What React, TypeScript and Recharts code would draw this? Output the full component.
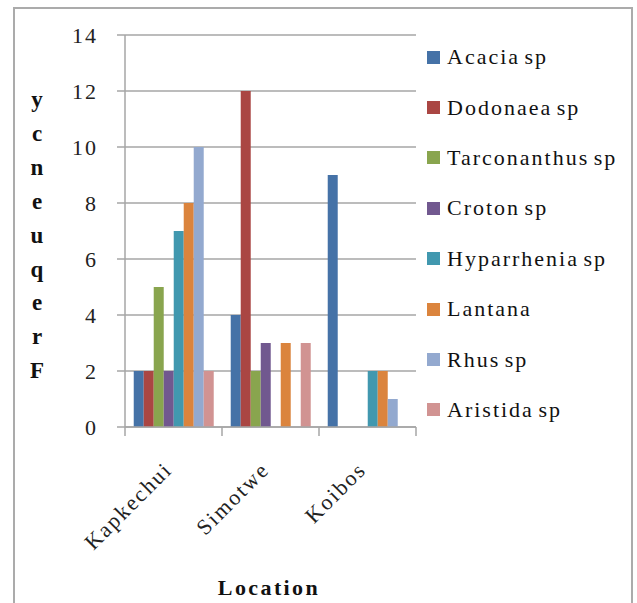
import React from 'react';
import { BarChart, Bar, XAxis, YAxis, CartesianGrid, Legend } from 'recharts';

const locations = ['Kapkechui', 'Simotwe', 'Koibos'];
const species = ['Acacia sp', 'Dodonaea sp', 'Tarconanthus sp', 'Croton sp', 'Hyparrhenia sp', 'Lantana', 'Rhus sp', 'Aristida sp'];
const acacia = [2, 4, 9];
const dodonaea = [2, 12, 0];
const tarconanthus = [5, 2, 0];
const croton = [2, 3, 0];
const hyparrhenia = [7, 0, 2];
const lantana = [8, 3, 2];
const rhus = [10, 0, 1];
const aristida = [2, 3, 0];
const yTicks = [0, 2, 4, 6, 8, 10, 12, 14];
const yTitle = 'Frequency';
const xTitle = 'Location';

const seriesValues = [acacia, dodonaea, tarconanthus, croton, hyparrhenia, lantana, rhus, aristida];
const colors = ['#4572A7', '#AA4643', '#89A54E', '#71588F', '#4198AF', '#DB843D', '#93A9CF', '#D19392'];

const data = locations.map((loc, i) => {
  const row: Record<string, any> = { location: loc };
  species.forEach((s, j) => {
    row[s] = seriesValues[j][i];
  });
  return row;
});

const W = 637;
const H = 603;
const margin = { top: 35, right: 221, bottom: 76, left: 65 };
const plotW = W - margin.left - margin.right - 60;
const font = '"Liberation Serif", "Times New Roman", serif';
const gridColor = '#a6a6a6';

const XTick = (props: any) => {
  const { x, y, payload, index } = props;
  const half = plotW / locations.length / 2;
  const tx = x;
  const ty = y + 44;
  return (
    <g>
      <line x1={x - half} y1={y} x2={x - half} y2={y + 9} stroke={gridColor} strokeWidth={1.5} />
      {index === locations.length - 1 && (
        <line x1={x + half} y1={y} x2={x + half} y2={y + 9} stroke={gridColor} strokeWidth={1.5} />
      )}
      <text
        x={tx}
        y={ty}
        textAnchor="end"
        transform={`rotate(-45 ${tx} ${ty})`}
        fontFamily={font}
        fontSize={22}
        letterSpacing={2}
        fill="#222"
      >
        {payload.value}
      </text>
    </g>
  );
};

const YTitle = () => (
  <g>
    {yTitle
      .split('')
      .reverse()
      .map((ch, i) => (
        <text
          key={i}
          x={37}
          y={107 + i * 33.9}
          textAnchor="middle"
          fontFamily={font}
          fontWeight="bold"
          fontSize={23}
          fill="#111"
        >
          {ch}
        </text>
      ))}
  </g>
);

const renderLegend = (props: any) => {
  const payload = [...(props.payload || [])].sort(
    (a: any, b: any) => species.indexOf(a.value) - species.indexOf(b.value)
  );
  return (
    <div style={{ fontFamily: font, fontSize: 22, letterSpacing: 2, wordSpacing: -3, color: '#111' }}>
      {payload.map((entry: any, i: number) => (
        <div key={i} style={{ display: 'flex', alignItems: 'center', height: 50.4, whiteSpace: 'nowrap' }}>
          <span style={{ display: 'inline-block', width: 13, height: 13, background: entry.color, marginRight: 7 }} />
          <span>{entry.value}</span>
        </div>
      ))}
    </div>
  );
};

export default function App() {
  return (
    <div style={{ position: 'absolute', left: 0, top: 0, width: W, height: H, background: '#fff', overflow: 'hidden' }}>
      <div
        style={{
          position: 'absolute',
          left: 13,
          top: 7,
          width: 616,
          height: 620,
          border: '2px solid #ababab',
        }}
      />
      <div style={{ position: 'absolute', left: 0, top: 0 }}>
        <BarChart width={W} height={H} data={data} margin={margin} barGap={0} barCategoryGap="9%">
          <CartesianGrid vertical={false} stroke={gridColor} strokeWidth={1.5} />
          <XAxis
            dataKey="location"
            height={100}
            tickSize={0}
            tickMargin={0}
            tickLine={false}
            axisLine={{ stroke: gridColor, strokeWidth: 1.5 }}
            tick={<XTick />}
            interval={0}
            label={{
              value: xTitle,
              position: 'insideBottom',
              content: () => (
                <text
                  x={269}
                  y={595}
                  textAnchor="middle"
                  fontFamily={font}
                  fontWeight="bold"
                  fontSize={22}
                  letterSpacing={2.4}
                  fill="#111"
                >
                  {xTitle}
                </text>
              ),
            }}
          />
          <YAxis
            width={60}
            domain={[0, 14]}
            ticks={yTicks}
            interval={0}
            tickSize={8}
            tickMargin={19}
            axisLine={{ stroke: gridColor, strokeWidth: 1.5 }}
            tickLine={{ stroke: gridColor, strokeWidth: 1.5 }}
            tick={{ fontFamily: font, fontSize: 22, letterSpacing: 2, fill: '#222' }}
            label={{ value: yTitle, position: 'insideLeft', content: () => <YTitle /> }}
          />
          <Legend
            layout="horizontal"
            verticalAlign="middle"
            align="center"
            content={renderLegend}
            wrapperStyle={{ left: 427, top: 32, width: 210 }}
          />
          {species.map((s, i) => (
            <Bar key={s} dataKey={s} fill={colors[i]} isAnimationActive={false} />
          ))}
        </BarChart>
      </div>
    </div>
  );
}
